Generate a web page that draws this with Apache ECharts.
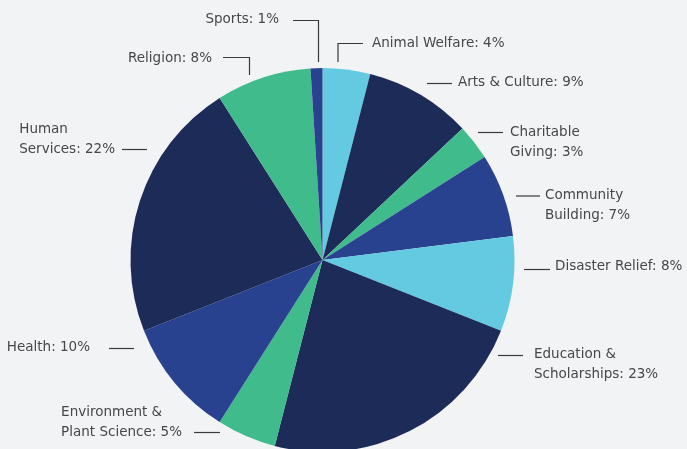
<!DOCTYPE html>
<html>
<head>
<meta charset="utf-8">
<script src="https://cdn.jsdelivr.net/npm/echarts@6/dist/echarts.min.js"></script>
<style>
html,body{margin:0;padding:0;background:#f2f3f5;}
#chart{width:687px;height:449px;}
</style>
</head>
<body>
<div id="chart"></div>
<script>
const categories = ["Animal Welfare", "Arts & Culture", "Charitable\nGiving", "Community\nBuilding", "Disaster Relief", "Education &\nScholarships", "Environment &\nPlant Science", "Health", "Human\nServices", "Religion", "Sports"];
const values = [4, 9, 3, 7, 8, 23, 5, 10, 22, 8, 1];
const colors = ["#63cae1", "#1d2b59", "#40bb8b", "#29428f", "#63cae1", "#1d2b59", "#40bb8b", "#29428f", "#1d2b59", "#40bb8b", "#29428f"];

// label placement: [anchorX, textY(middle of block), side, linePoints]
// side 'left': anchorX = left edge of text; side 'right': anchorX = right edge of text block
const labelLayouts = [
  [372, 43, 'left', [[338, 62], [338, 43.5], [363, 43.5]]],
  [458, 82.5, 'left', [[427, 83.5], [452, 83.5]]],
  [510, 142, 'left', [[478, 132.5], [503, 132.5]]],
  [545, 205, 'left', [[516, 196], [540, 196]]],
  [555, 266, 'left', [[524, 269.5], [550, 269.5]]],
  [534, 364.5, 'left', [[498, 355.5], [523, 355.5]]],
  [182, 422, 'right', [[194, 432.5], [220, 432.5]]],
  [90, 347.5, 'right', [[109, 348.5], [134, 348.5]]],
  [115, 139, 'right', [[122, 149.5], [147, 149.5]]],
  [212, 58, 'right', [[249.5, 75], [249.5, 57.5], [223, 57.5]]],
  [279, 19, 'right', [[318.5, 62], [318.5, 20.5], [293, 20.5]]]
];

const chart = echarts.init(document.getElementById('chart'));
chart.setOption({
  backgroundColor: '#f2f3f5',
  animation: false,
  series: [{
    type: 'pie',
    center: [322.5, 260],
    radius: 192,
    startAngle: 90,
    clockwise: true,
    avoidLabelOverlap: false,
    data: categories.map((n, i) => ({ name: n, value: values[i], itemStyle: { color: colors[i] } })),
    label: {
      show: true,
      position: 'outside',
      formatter: p => p.name + ': ' + p.value + '%',
      fontFamily: 'DejaVu Sans',
      fontSize: 13.5,
      lineHeight: 20,
      color: '#474747'
    },
    labelLine: {
      show: true,
      length: 10,
      length2: 20,
      lineStyle: { color: '#3a3a3a', width: 1.2 }
    },
    labelLayout: function (params) {
      const l = labelLayouts[params.dataIndex];
      const w = params.labelRect.width;
      return {
        x: l[2] === 'left' ? l[0] : l[0] - w,
        y: l[1],
        align: 'left',
        verticalAlign: 'middle',
        labelLinePoints: l[3]
      };
    }
  }]
});
</script>
</body>
</html>
